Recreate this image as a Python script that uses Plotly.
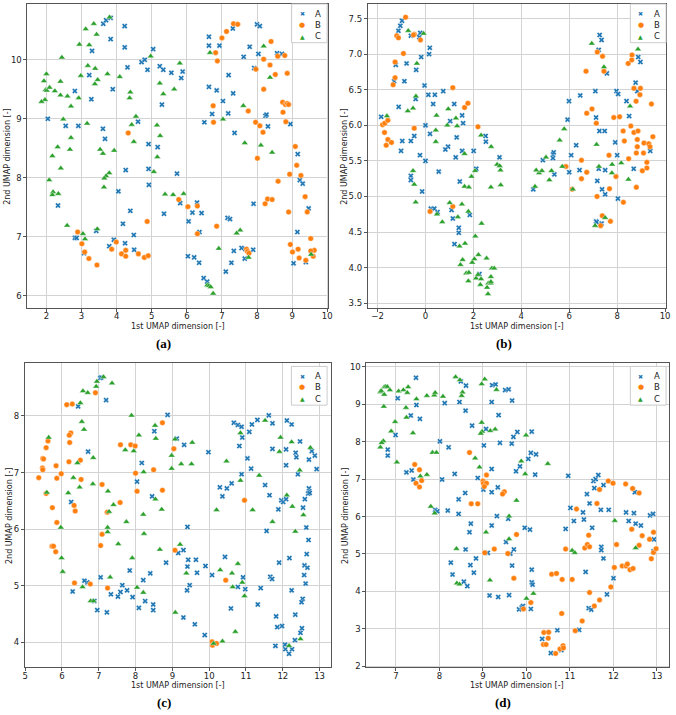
import plotly.graph_objects as go

# ---- data: [x, y] per point ----
A_a = [[3.62,10.61],[3.70,10.67],[3.83,10.71],[4.23,10.57],[3.83,10.35],[4.23,10.21],[3.30,10.15],[3.22,9.74],
       [3.28,9.33],[3.89,9.50],[2.81,9.47],[2.04,9.00],[2.55,8.88],[2.91,8.88],[3.61,8.83],[3.67,8.66],[4.31,9.87],
       [4.71,9.96],[4.80,10.00],[5.04,10.18],[4.88,9.83],[5.23,9.89],[5.33,9.83],[5.56,9.78],[5.88,9.80],[5.84,9.69],
       [5.29,9.24],[4.61,8.95],[4.91,8.57],[5.17,8.52],[4.26,8.13],[4.91,8.15],[5.72,8.07],[6.63,10.39],[6.63,10.24],
       [6.93,10.24],[7.31,10.53],[7.79,10.22],[7.62,10.05],[8.00,10.60],[8.08,10.57],[8.04,10.10],[7.92,9.86],
       [8.57,10.11],[8.71,10.10],[6.63,9.54],[6.85,9.48],[7.19,9.74],[7.03,9.30],[7.32,9.43],[7.18,9.09],[6.72,9.08],
       [6.50,8.94],[7.36,8.76],[8.24,9.05],[8.27,9.07],[8.31,8.87],[8.95,8.91],[9.16,8.40],[2.33,7.53],[2.81,6.98],
       [2.86,6.98],[3.07,6.72],[3.42,7.10],[3.79,6.84],[3.92,6.95],[4.05,7.77],[4.18,7.22],[4.24,6.89],[4.39,7.44],
       [4.49,7.03],[4.50,6.78],[4.92,7.88],[5.35,7.39],[5.81,7.57],[6.05,7.26],[6.16,7.41],[6.29,7.58],[6.42,7.40],
       [6.36,7.08],[6.03,6.67],[6.21,6.65],[6.35,6.56],[6.48,6.30],[6.58,6.24],[7.11,6.41],[7.16,7.32],[7.23,7.30],
       [7.34,6.76],[7.27,6.56],[7.56,6.81],[7.65,6.63],[7.67,6.79],[7.90,7.56],[7.89,6.78],[9.15,7.08],[9.22,7.96],
       [9.30,7.90],[9.47,7.48],[9.04,6.55],[9.39,6.57]]
B_a = [[7.33,10.61],[7.45,10.60],[7.13,10.48],[7.00,10.37],[6.82,10.12],[6.87,9.98],[8.40,10.31],[8.19,10.01],
       [7.97,9.84],[8.37,9.91],[8.59,10.06],[8.79,10.07],[8.52,9.75],[8.86,9.77],[8.19,9.50],[8.73,9.28],[8.81,9.24],
       [8.86,9.26],[8.90,9.24],[8.74,9.11],[6.75,9.22],[6.76,8.94],[7.75,9.13],[7.96,8.94],[8.08,8.88],[8.17,8.77],
       [8.82,8.95],[9.09,8.53],[9.13,8.21],[8.93,8.06],[9.25,8.04],[8.01,8.33],[4.33,8.76],[2.89,7.08],[3.01,6.88],
       [3.09,6.74],[3.21,6.63],[3.44,6.52],[3.86,6.79],[3.99,6.91],[4.14,6.71],[4.26,6.77],[4.26,6.67],[4.62,6.71],
       [4.79,6.65],[4.90,6.68],[4.87,7.26],[5.77,7.63],[6.03,7.51],[6.30,7.52],[6.30,7.05],[6.85,7.18],[7.70,6.79],
       [7.73,6.75],[7.77,6.72],[8.23,7.56],[8.30,7.64],[8.43,7.63],[8.60,7.94],[8.90,7.42],[9.37,7.68],[9.43,7.42],
       [9.53,6.97],[9.63,6.77],[9.53,6.76],[9.60,6.67],[9.39,6.60],[8.95,6.87],[9.01,6.74],[9.17,6.79],[9.20,6.64]]
C_a = [[3.80,10.72],[3.35,10.61],[3.12,10.52],[3.43,10.43],[2.94,10.26],[3.22,10.25],[2.44,10.04],[3.18,9.90],
       [3.39,9.85],[2.98,9.73],[3.74,9.76],[3.46,9.66],[3.38,9.59],[2.00,9.76],[1.93,9.64],[1.98,9.49],[2.01,9.48],
       [2.09,9.53],[2.24,9.47],[2.40,9.63],[2.40,9.40],[2.60,9.38],[2.92,9.35],[1.96,9.32],[1.86,9.29],[2.70,9.21],
       [2.48,8.99],[3.16,8.92],[2.70,8.68],[2.32,8.52],[2.67,8.48],[2.17,8.37],[2.41,8.16],[3.53,8.48],[3.61,8.41],
       [3.93,8.46],[4.09,9.71],[4.39,9.45],[4.37,9.35],[4.55,9.04],[4.43,8.90],[4.49,8.61],[4.97,10.06],[5.23,9.60],
       [5.33,9.42],[5.15,8.89],[5.24,8.71],[5.16,8.35],[5.06,8.10],[5.80,9.94],[5.64,9.50],[3.79,8.08],[3.70,8.03],
       [3.65,7.99],[3.64,7.84],[6.66,10.12],[7.03,8.99],[7.61,9.22],[7.65,8.59],[8.11,8.55],[8.19,10.23],[8.37,9.70],
       [8.43,8.43],[2.08,7.96],[2.19,7.76],[2.17,7.71],[2.34,7.73],[2.59,7.19],[3.04,7.05],[3.10,6.96],[3.45,7.13],
       [5.38,7.72],[5.61,7.71],[5.91,7.73],[7.52,7.11],[7.42,7.06],[6.91,6.80],[7.76,6.65],[6.58,6.18],[6.63,6.17],
       [6.68,6.15],[6.75,6.04],[9.54,6.70]]

A_b = [[-1.85,6.12],[-1.31,6.62],[-1.24,6.85],[-1.13,7.33],[-1.05,7.40],[-0.98,7.47],[-0.88,6.62],[-0.79,6.87],
       [-1.12,6.26],[-0.61,7.26],[-0.22,7.30],[-0.26,7.24],[-0.18,6.96],[-0.39,6.78],[-0.41,6.37],[-0.47,5.85],
       [-0.61,5.78],[-0.97,5.78],[-0.04,6.56],[0.00,6.00],[0.18,7.09],[0.15,7.00],[0.12,6.43],[0.39,6.43],[0.32,6.30],
       [0.19,5.88],[0.74,6.48],[1.20,6.30],[1.03,6.06],[1.53,6.14],[1.57,6.03],[1.30,5.83],[0.94,5.70],[0.83,5.66],
       [2.51,5.85],[2.52,5.77],[5.99,6.34],[6.46,6.42],[5.93,6.08],[6.29,5.72],[7.09,6.48],[7.12,6.11],[7.26,5.92],
       [7.48,5.92],[7.27,7.27],[7.35,7.20],[7.23,7.06],[7.57,6.73],[7.97,6.48],[8.04,6.44],[8.39,6.34],[8.50,6.13],
       [7.92,5.76],[8.77,6.60],[8.84,6.48],[8.88,6.96],[8.97,6.89],[-1.02,5.64],[-0.23,5.58],[0.00,5.50],[1.26,5.55],
       [1.53,5.64],[2.01,5.64],[3.09,5.55],[-0.61,5.29],[-0.61,5.23],[0.55,5.35],[-0.14,5.07],[0.22,4.83],[0.37,4.83],
       [0.50,4.78],[1.09,4.81],[1.14,4.69],[1.85,4.74],[1.43,5.21],[2.12,5.39],[1.39,4.56],[1.39,4.49],[1.21,4.33],
       [2.25,3.91],[4.50,5.10],[4.90,5.51],[5.32,5.59],[5.35,5.62],[5.32,5.54],[5.38,5.31],[6.00,5.34],[6.08,5.58],
       [6.43,5.37],[7.23,5.39],[7.50,5.37],[7.17,5.22],[7.37,5.10],[7.50,5.03],[8.00,5.58],[8.03,4.97],[8.69,5.39],
       [9.38,5.64],[7.12,4.65],[7.14,4.64],[7.35,4.62]]
B_b = [[-0.83,7.52],[-1.20,7.26],[-1.13,7.23],[-0.47,7.28],[-0.50,7.27],[-0.21,7.20],[-0.92,7.01],[-1.27,6.89],
       [-1.27,6.67],[-1.35,6.57],[-1.79,6.01],[-1.70,6.03],[-1.57,6.07],[-1.71,5.90],[-1.57,5.80],[-1.42,5.76],
       [-1.64,5.72],[-0.47,5.96],[1.14,6.53],[1.63,6.25],[1.77,6.31],[2.19,5.98],[6.70,6.76],[6.73,6.17],[6.95,6.23],
       [7.13,6.03],[7.17,7.03],[7.39,6.97],[7.45,6.76],[7.86,6.11],[8.10,6.12],[8.25,5.92],[8.30,5.78],[8.46,6.87],
       [8.61,6.92],[8.62,6.99],[8.70,6.52],[8.79,6.34],[8.95,6.43],[8.97,6.52],[8.57,5.99],[8.70,5.90],[8.87,5.92],
       [8.84,5.80],[8.84,5.70],[9.12,5.75],[9.32,5.74],[9.37,5.70],[9.43,6.30],[9.49,5.84],[0.19,4.79],[1.14,4.86],
       [5.86,5.42],[6.12,5.10],[6.51,5.51],[6.51,5.25],[6.73,5.34],[7.16,5.00],[7.38,4.73],[7.31,4.59],[7.72,4.65],
       [7.66,5.58],[7.68,5.11],[7.95,5.28],[8.26,4.92],[8.48,5.53],[8.80,5.61],[9.10,5.61],[9.24,5.48],[9.24,5.40],
       [9.05,5.36],[8.80,5.13]]
C_b = [[-1.61,6.13],[-0.72,7.33],[-0.08,7.29],[-0.36,6.87],[-0.40,6.41],[-0.74,6.20],[-0.52,6.24],[0.46,6.14],
       [0.43,5.93],[0.43,5.77],[0.95,6.23],[0.91,6.00],[1.27,6.10],[1.32,5.99],[2.32,5.86],[2.74,5.70],[5.60,5.79],
       [5.79,5.95],[6.94,7.15],[7.45,6.82],[7.14,5.73],[8.87,7.07],[8.54,6.27],[-0.52,5.36],[-0.47,5.17],[-0.41,4.92],
       [0.48,4.75],[0.70,4.64],[1.01,4.91],[1.52,4.89],[1.35,4.71],[1.79,4.79],[1.63,5.60],[1.63,5.14],[1.81,5.13],
       [1.92,5.28],[2.07,5.36],[2.73,5.13],[2.99,5.45],[3.10,5.43],[3.13,5.37],[3.14,5.16],[2.34,4.62],[2.08,4.44],
       [1.65,4.34],[1.42,4.30],[1.55,4.11],[1.46,4.04],[2.04,4.12],[2.21,4.18],[2.55,4.13],[1.95,4.07],[1.70,3.92],
       [1.81,3.93],[1.79,3.81],[2.11,3.85],[2.32,3.84],[2.19,3.90],[2.29,3.76],[2.62,3.78],[2.72,3.78],[2.73,3.80],
       [2.73,3.87],[2.77,3.99],[2.87,3.99],[2.57,3.72],[2.61,3.63],[4.57,5.14],[4.62,5.37],[4.74,5.33],[4.86,5.36],
       [5.03,5.55],[5.17,5.23],[5.26,5.36],[5.71,5.42],[6.15,5.10],[7.24,5.42],[7.79,5.45],[7.78,5.33],[8.17,5.47],
       [8.47,5.24],[7.50,4.70],[7.08,4.59]]

A_c = [[6.44,8.17],[7.04,8.67],[7.07,8.68],[7.20,8.28],[6.71,7.37],[8.17,7.17],[8.04,6.84],[8.51,7.73],[8.87,8.02],
       [9.12,7.60],[9.32,7.49],[8.45,6.58],[9.98,7.36],[10.67,7.88],[10.78,7.84],[10.88,7.81],[10.90,7.62],
       [10.82,7.47],[11.09,7.72],[11.16,7.85],[11.31,7.93],[11.62,8.01],[11.72,7.87],[12.11,7.92],[12.24,7.85],
       [11.72,7.42],[12.09,7.41],[12.35,7.35],[12.37,7.27],[12.47,7.55],[12.09,7.13],[12.71,7.23],[12.79,7.38],
       [12.87,7.30],[12.92,7.06],[11.04,7.25],[11.14,7.07],[10.88,6.97],[12.41,6.97],[10.61,6.81],[10.29,6.74],
       [10.48,6.72],[10.36,6.58],[11.52,6.78],[11.64,6.60],[11.96,6.51],[12.01,6.48],[12.09,6.53],[11.88,6.35],
       [12.60,6.53],[12.71,6.72],[12.72,6.67],[12.69,6.63],[12.73,6.64],[12.55,6.38],[6.25,6.48],[9.41,6.04],
       [11.56,5.97],[12.64,6.03],[12.70,5.81],[12.65,5.56],[12.59,5.36],[12.67,5.32],[12.58,5.19],[12.62,5.04],
       [12.18,5.49],[11.90,5.41],[12.24,4.92],[12.54,4.77],[12.51,4.71],[12.52,4.25],[12.48,4.17],[12.34,4.49],
       [11.82,4.46],[11.85,4.27],[11.98,4.29],[11.66,5.16],[11.71,5.12],[11.40,4.96],[11.32,4.67],[10.98,4.94],
       [10.92,5.15],[10.78,4.98],[10.43,5.51],[10.08,5.19],[10.59,4.60],[12.33,4.04],[11.80,3.94],[12.06,3.96],
       [12.07,3.88],[12.25,3.88],[12.17,3.80],[9.88,4.13],[9.61,4.32],[9.30,4.44],[9.67,5.23],[9.90,5.35],[9.64,5.46],
       [9.43,5.46],[9.41,5.34],[9.47,5.01],[9.40,4.92],[9.30,5.63],[9.16,5.58],[8.83,5.41],[8.40,5.22],[8.21,5.10],
       [7.84,5.27],[7.64,5.01],[7.59,4.89],[7.52,4.81],[7.77,4.92],[7.92,4.80],[8.26,4.73],[8.09,4.61],[8.48,4.67],
       [8.48,4.57],[7.33,4.85],[7.22,4.53],[7.05,5.15],[6.96,4.57],[6.88,4.73],[6.69,5.06],[6.61,5.09],[6.29,4.90]]
B_c = [[6.13,8.20],[6.28,8.21],[6.91,8.41],[6.24,7.70],[6.20,7.66],[6.21,7.53],[6.19,7.19],[6.50,7.22],[5.62,7.56],
       [5.57,7.44],[5.48,7.25],[5.50,7.24],[5.47,7.08],[5.48,7.05],[5.37,6.91],[5.57,6.63],[5.84,7.12],[5.86,6.90],
       [5.98,6.98],[6.52,6.88],[7.09,6.79],[7.59,7.49],[7.87,7.49],[7.99,7.47],[8.00,6.99],[8.04,6.67],[8.49,7.05],
       [8.73,7.88],[8.73,6.69],[9.04,7.42],[10.96,6.51],[5.74,6.38],[6.33,6.42],[6.36,6.32],[5.86,6.12],[5.73,5.70],
       [5.77,5.70],[5.83,5.60],[6.34,5.05],[6.77,5.03],[7.09,5.91],[7.05,5.71],[7.23,6.30],[7.24,4.96],[7.58,6.47],
       [9.07,5.63],[10.45,5.10],[10.08,4.01],[10.09,3.95],[10.20,3.98]]
C_c = [[7.13,8.69],[6.95,8.61],[6.93,8.52],[7.36,8.58],[6.57,8.44],[6.70,8.41],[6.50,8.23],[6.54,7.90],[6.60,7.76],
       [5.64,7.62],[6.42,7.17],[6.85,7.26],[6.31,6.91],[6.48,6.74],[6.17,6.64],[5.59,6.65],[6.84,6.80],[7.25,6.67],
       [7.89,8.01],[7.72,7.40],[7.95,7.38],[8.09,7.66],[8.22,7.01],[8.53,7.83],[8.55,7.60],[8.54,6.53],[8.98,7.30],
       [8.98,7.07],[9.07,7.59],[9.24,7.15],[9.52,7.15],[9.54,7.53],[10.47,7.20],[10.85,7.70],[10.85,6.86],[11.36,6.95],
       [11.52,7.92],[11.94,7.62],[11.91,7.37],[12.24,7.54],[12.11,6.60],[12.75,7.44],[12.46,7.04],[5.97,6.03],
       [5.99,5.49],[6.02,5.25],[6.56,4.98],[6.78,4.73],[6.86,4.73],[7.28,6.31],[7.24,6.03],[7.24,5.95],[7.40,6.43],
       [7.31,5.15],[7.53,5.74],[7.75,6.13],[7.91,5.49],[8.04,4.97],[8.21,6.26],[8.23,5.92],[8.21,4.88],[8.71,6.35],
       [8.66,5.64],[9.08,4.53],[9.21,5.73],[9.38,5.22],[10.20,6.34],[10.30,5.28],[10.62,5.22],[10.64,4.98],
       [10.78,5.39],[10.90,5.06],[10.96,4.82],[10.71,4.19],[10.36,4.02],[10.12,3.98],[11.18,6.34],[11.72,6.13],
       [12.26,6.40],[12.56,6.25],[12.34,5.96],[12.17,3.94],[12.48,4.06]]

A_d = [[7.46,9.71],[7.04,9.16],[7.47,8.98],[7.34,8.70],[7.55,8.61],[6.99,8.18],[6.81,7.79],[6.81,7.63],[7.24,7.18],
       [7.36,7.23],[7.40,6.99],[8.01,8.01],[8.21,7.85],[8.06,6.99],[8.12,9.03],[8.49,9.61],[8.46,9.06],[8.61,9.50],
       [8.60,8.83],[8.75,8.43],[8.35,7.14],[8.44,6.46],[8.59,6.63],[8.88,7.03],[9.01,6.72],[9.02,7.90],[9.07,8.34],
       [9.21,9.51],[9.29,9.53],[9.20,9.06],[9.36,8.71],[9.51,9.38],[9.59,9.40],[9.67,9.10],[9.39,7.97],[9.66,7.95],
       [9.70,8.13],[9.79,8.26],[10.12,8.27],[10.10,7.70],[10.22,7.66],[10.04,7.54],[9.85,7.34],[9.76,7.21],[9.20,7.27],
       [9.20,6.65],[9.34,6.78],[10.20,7.12],[10.96,7.09],[11.39,6.60],[11.54,6.95],[11.59,7.00],[11.65,7.11],
       [11.56,6.76],[11.77,6.84],[12.49,6.65],[7.90,6.18],[7.95,6.14],[8.19,6.16],[8.44,6.07],[8.72,5.81],[8.69,5.58],
       [8.60,5.12],[8.26,4.77],[8.30,4.45],[8.56,4.26],[8.64,4.14],[8.71,4.70],[8.84,4.88],[8.79,4.50],[9.20,5.76],
       [9.32,6.01],[9.11,5.03],[9.15,3.89],[9.35,3.85],[9.60,3.90],[9.58,5.94],[9.53,5.32],[9.63,5.01],[9.71,5.12],
       [9.67,4.69],[9.96,5.70],[10.08,5.65],[10.12,4.58],[10.12,4.24],[10.14,4.18],[9.83,3.52],[9.89,3.57],[9.92,3.61],
       [10.10,3.53],[10.36,2.73],[10.56,2.35],[10.71,2.96],[10.80,2.43],[11.01,6.23],[10.90,5.67],[11.09,5.88],
       [11.30,6.11],[11.32,5.92],[11.45,6.35],[11.51,5.70],[11.21,2.97],[11.36,4.52],[11.43,3.55],[11.49,3.51],
       [11.71,6.18],[11.89,6.18],[11.72,5.19],[11.72,5.10],[11.77,4.88],[11.85,3.92],[12.00,4.35],[12.29,6.11],
       [12.35,5.88],[12.47,6.09],[12.51,5.81],[12.63,5.76],[12.84,6.03],[12.91,6.07],[12.93,5.39],[12.92,5.07]]
B_d = [[7.43,7.39],[7.54,7.25],[7.46,6.89],[7.59,6.96],[7.54,6.79],[8.69,7.71],[9.08,7.11],[9.00,6.95],[9.01,6.88],
       [9.08,6.89],[9.03,6.80],[9.49,6.66],[9.45,6.60],[11.88,6.95],[11.99,6.89],[12.28,6.87],[12.44,6.75],
       [12.59,6.63],[11.68,6.72],[8.73,6.34],[8.88,6.34],[9.04,5.03],[9.26,5.13],[9.57,5.01],[9.77,5.52],[9.71,4.35],
       [10.10,3.70],[9.93,3.53],[10.40,2.90],[10.51,2.91],[10.50,2.75],[10.39,2.58],[10.45,2.58],[10.67,2.34],
       [10.77,2.46],[10.84,2.55],[10.85,2.49],[10.81,3.41],[10.58,4.46],[10.69,4.48],[10.82,4.32],[11.05,4.32],
       [10.90,5.13],[11.12,2.95],[11.15,6.20],[11.62,6.35],[11.28,3.21],[11.34,5.16],[11.40,5.25],[11.45,5.19],
       [11.43,5.50],[11.45,3.97],[11.56,3.61],[11.68,3.77],[11.94,4.12],[12.02,4.64],[12.07,5.25],[12.20,4.68],
       [12.29,4.68],[12.32,4.73],[12.38,4.58],[12.45,4.61],[12.42,5.66],[12.59,5.23],[12.66,5.49],[12.83,5.39],
       [12.87,4.87],[12.92,5.58],[12.92,5.04],[12.98,5.14]]
C_d = [[6.64,9.33],[6.66,9.36],[6.73,9.46],[6.76,9.47],[6.80,9.47],[6.73,9.26],[6.86,9.38],[7.06,9.35],[7.17,9.38],
       [7.26,9.31],[7.28,9.46],[7.47,9.14],[6.72,8.94],[7.23,8.91],[7.24,8.65],[6.98,8.53],[6.89,8.28],[7.39,8.23],
       [6.71,8.02],[6.67,7.97],[6.64,7.85],[7.02,7.45],[7.71,9.23],[7.88,9.24],[7.90,9.31],[8.08,9.21],[7.84,7.71],
       [7.93,7.71],[7.71,7.12],[7.56,7.08],[8.37,9.73],[8.47,9.65],[8.53,9.32],[8.51,9.23],[8.97,9.54],[9.04,9.67],
       [9.31,9.39],[8.97,8.51],[8.98,8.27],[8.95,8.22],[9.17,8.29],[9.28,8.33],[8.82,7.56],[8.92,7.32],[9.88,7.48],
       [9.97,7.14],[9.99,8.17],[10.49,7.41],[9.77,6.43],[7.80,6.27],[7.89,6.09],[9.07,5.58],[9.60,6.01],[9.60,5.40],
       [8.39,5.14],[8.40,4.22],[8.46,4.19],[9.16,4.30],[10.00,3.81],[10.16,3.94],[11.05,5.09],[11.11,5.03],
       [12.03,5.89],[12.51,5.16]]

classes = ["A", "B", "C"]
panel_labels = ["(a)", "(b)", "(c)", "(d)"]
x_title = "1st UMAP dimension [-]"
y_title = "2nd UMAP dimension [-]"

colors = {"A": "#1f77b4", "B": "#ff7f0e", "C": "#2ca02c"}
symbols = {"A": "x", "B": "circle", "C": "triangle-up"}
sizes = {"A": 5, "B": 5.5, "C": 6}
key_glyph = {"A": "✖", "B": "●", "C": "▲"}
key_size = {"A": 6, "B": 7, "C": 6}

W, H = 676, 715

# panel geometry: domains (paper), axis ranges, tick steps, text positions (pixels)
panels = [
    dict(series=[A_a, B_a, C_a], xd=[0.038, 0.487], yd=[0.5674, 0.9962], xr=[1.46, 10.03], yr=[5.79, 10.95],
         dx=1, dy=1, yfmt="", lab=(163, 345), xt=(177.5, 327.5), yt=(6, 156), leg=(328, 3)),
    dict(series=[A_b, B_b, C_b], xd=[0.5459, 0.9911], yd=[0.5674, 0.9962], xr=[-2.41, 10.04], yr=[3.43, 7.71],
         dx=2, dy=0.5, yfmt=".1f", lab=(506, 345), xt=(519.5, 327.5), yt=(346, 156), leg=(670, 3)),
    dict(series=[A_c, B_c, C_c], xd=[0.034, 0.4916], yd=[0.0615, 0.4905], xr=[4.99, 13.32], yr=[3.56, 8.94],
         dx=1, dy=1, yfmt="", lab=(163, 706), xt=(177.7, 689), yt=(7, 517.7), leg=(328, 368)),
    dict(series=[A_d, B_d, C_d], xd=[0.5439, 0.9951], yd=[0.0615, 0.4905], xr=[6.32, 13.27], yr=[1.97, 10.11],
         dx=1, dy=1, yfmt="", lab=(505, 706), xt=(520, 689), yt=(346, 517.7), leg=(670, 368)),
]


def px(x):
    return x / W


def py(y):
    return 1 - y / H


tick_font = dict(family="DejaVu Sans", size=8.5, color="#222")
text_font = dict(family="DejaVu Sans", size=8, color="#222")
fig = go.Figure()
layout = dict(width=W, height=H, margin=dict(l=0, r=0, t=0, b=0), showlegend=False,
              paper_bgcolor="white", plot_bgcolor="white", annotations=[], shapes=[])

for i, p in enumerate(panels):
    n = "" if i == 0 else str(i + 1)
    for cls, pts in zip(classes, p["series"]):
        fig.add_trace(go.Scatter(
            x=[v[0] for v in pts], y=[v[1] for v in pts], mode="markers", name=cls,
            xaxis="x" + n, yaxis="y" + n, cliponaxis=False,
            marker=dict(symbol=symbols[cls], size=sizes[cls], color=colors[cls],
                        line=dict(color="white", width=0.4))))
    axis_common = dict(showgrid=True, gridcolor="#d3d3d3", gridwidth=1, zeroline=False,
                       showline=True, mirror=True, linecolor="#555", linewidth=1,
                       ticks="outside", ticklen=3, tickcolor="#555", tickfont=tick_font)
    layout["xaxis" + n] = dict(domain=p["xd"], range=p["xr"], dtick=p["dx"], tick0=0,
                               anchor="y" + n, ticklabelstandoff=-3, **axis_common)
    layout["yaxis" + n] = dict(domain=p["yd"], range=p["yr"], dtick=p["dy"], tick0=0,
                               tickformat=p["yfmt"], anchor="x" + n, **axis_common)

    # axis titles and panel caption
    layout["annotations"] += [
        dict(text=x_title, x=px(p["xt"][0]), y=py(p["xt"][1]), xanchor="center", yanchor="middle",
             font=text_font),
        dict(text=y_title, x=px(p["yt"][0]), y=py(p["yt"][1]), xanchor="center", yanchor="middle",
             textangle=-90, font=text_font),
        dict(text="<b>" + panel_labels[i] + "</b>", x=px(p["lab"][0]), y=py(p["lab"][1]),
             xanchor="center", yanchor="middle",
             font=dict(family="Liberation Serif", size=13, color="black")),
    ]

    # compact matplotlib-style legend box in the top-right corner
    rx, ty = p["leg"]
    layout["shapes"].append(dict(type="rect", xref="paper", yref="paper",
                                 x0=px(rx - 36), x1=px(rx), y0=py(ty + 39), y1=py(ty),
                                 line=dict(color="#cccccc", width=1),
                                 fillcolor="rgba(255,255,255,0.85)", layer="above"))
    for k, cls in enumerate(classes):
        yy = py(ty + 9.7 + 11.3 * k)
        layout["annotations"] += [
            dict(text=key_glyph[cls], x=px(rx - 25.3), y=yy, xanchor="center", yanchor="middle",
                 font=dict(family="DejaVu Sans", size=key_size[cls], color=colors[cls])),
            dict(text=cls, x=px(rx - 8.7), y=yy, xanchor="center", yanchor="middle",
                 font=dict(family="DejaVu Sans", size=8.5, color="#222")),
        ]

for a in layout["annotations"]:
    a.update(xref="paper", yref="paper", showarrow=False)

fig.update_layout(**layout)
# the page body has a default 8px margin; remove it so the figure fills the window
fig.write_html("out.html", config={"displayModeBar": False},
               post_script="document.body.style.margin='0';document.body.style.overflow='hidden';")
